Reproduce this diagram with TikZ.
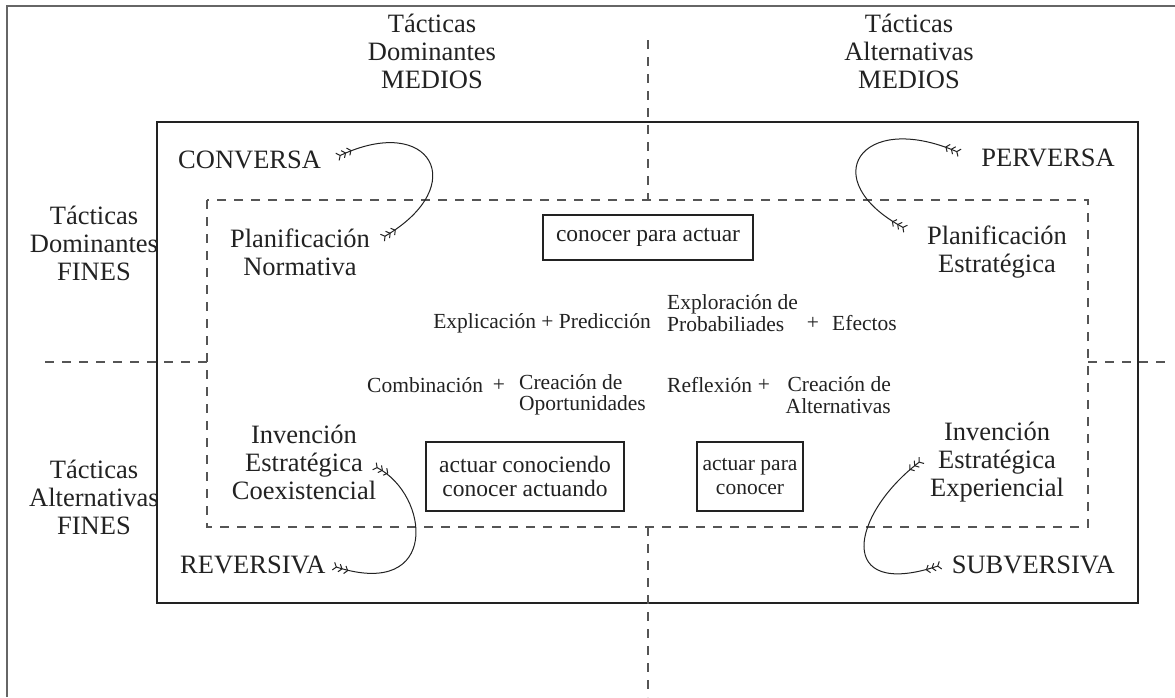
\documentclass[tikz,border=0pt]{standalone}
\usepackage{fontspec}
\setmainfont{Liberation Serif}
\usetikzlibrary{arrows.meta}
\definecolor{ink}{HTML}{222222}
\definecolor{framegray}{HTML}{666666}
\definecolor{dashgray}{HTML}{555555}
\tikzset{
  Fth/.tip={Straight Barb[reversed,length=3pt,width=8pt,sep=1.8pt]Straight Barb[reversed,length=3pt,width=8pt,sep=1.8pt]Straight Barb[reversed,length=3pt,width=8pt]},
  big/.style={font=\fontsize{26.5}{28}\selectfont, text=ink, inner sep=0pt, align=center},
  boxtext/.style={font=\fontsize{23.5}{24}\selectfont, text=ink, align=center, draw=ink, line width=1.2pt, inner sep=0pt},
  small/.style={font=\fontsize{21.5}{21.5}\selectfont, text=ink, inner sep=0pt},
  dashln/.style={draw=dashgray, line width=1.1pt, dash pattern=on 9pt off 8pt},
  curv/.style={draw=ink, line width=1pt, Fth-Fth},
}
\begin{document}
\begin{tikzpicture}[x=1pt,y=-1pt]
\useasboundingbox (0,0) rectangle (1175,697);
\fill[white] (0,0) rectangle (1175,697);
% frames
\draw[framegray, line width=1.5pt] (7,697) -- (7,6) -- (1175,6);
\draw[ink, line width=2.5pt] (157,122) rectangle (1138,603);
\draw[dashln] (207,200) rectangle (1088,527);
\draw[dashln] (648,40) -- (648,200);
\draw[dashln] (648,527) -- (648,697);
\draw[dashln] (45,362) -- (207,362);
\draw[dashln] (1088,362) -- (1165,362);
% axis labels
\node[big] (tdm) at (432,51) {Tácticas\\Dominantes\\MEDIOS};
\node[big] (tam) at (909,51) {Tácticas\\Alternativas\\MEDIOS};
\node[big] (tdf) at (94,243) {Tácticas\\Dominantes\\FINES};
\node[big] (taf) at (94,497) {Tácticas\\Alternativas\\FINES};
% corner labels
\node[big, anchor=west] (conv) at (178,160) {CONVERSA};
\node[big, anchor=east] (perv) at (1115,158) {PERVERSA};
\node[big, anchor=west] (rev) at (180,565) {REVERSIVA};
\node[big, anchor=east] (subv) at (1115,565) {SUBVERSIVA};
% inner labels
\node[big] (pn) at (300,252) {Planificación\\Normativa};
\node[big] (pe) at (997,252) {Planificación\\Estratégica};
\node[big] (iec) at (304,462) {Invención\\Estratégica\\Coexistencial};
\node[big] (iee) at (997,462) {Invención\\Estratégica\\Experiencial};
% boxes
\node[boxtext, minimum width=210pt, minimum height=45pt] (b1) at (648,237.5) {conocer para actuar};
\node[boxtext, minimum width=198pt, minimum height=69pt] (b2) at (525,476.5) {actuar conociendo\\conocer actuando};
\node[boxtext, font=\fontsize{21.5}{24}\selectfont, minimum width=106pt, minimum height=69pt] (b3) at (750,476.5) {actuar para\\conocer};
% small texts
\node[small, anchor=east] (ep) at (651,323) {Explicación + Predicción};
\node[small, anchor=west, align=left] (epr) at (667,313) {Exploración de\\Probabiliades};
\node[small] (pl1) at (813,323) {+};
\node[small, anchor=west] (efe) at (832,323) {Efectos};
\node[small, anchor=west] (comb) at (367,385) {Combinación};
\node[small] (pl2) at (499,385) {+};
\node[small, anchor=west, align=left] (cop) at (519,395) {Creación de\\Oportunidades};
\node[small, anchor=west] (refl) at (667,385) {Reflexión};
\node[small] (pl3) at (764,385) {+};
\node[small, anchor=east, align=right] (cal) at (891,395) {Creación de\\Alternativas};
% curves
\coordinate (c1) at (337,157);
\coordinate (c2) at (382,238);
\coordinate (p1) at (960,153);
\coordinate (p2) at (906,229);
\coordinate (r1) at (374,466);
\coordinate (r2) at (333,566);
\coordinate (s1) at (922,460);
\coordinate (s2) at (941,565);
\draw[curv] (c1) .. controls (430,113) and (472,185) .. (c2);
\draw[curv] (p1) .. controls (860,110) and (815,180) .. (p2);
\draw[curv] (r1) .. controls (430,495) and (440,600) .. (r2);
\draw[curv] (s1) .. controls (850,515) and (835,600) .. (s2);
\end{tikzpicture}
\end{document}
